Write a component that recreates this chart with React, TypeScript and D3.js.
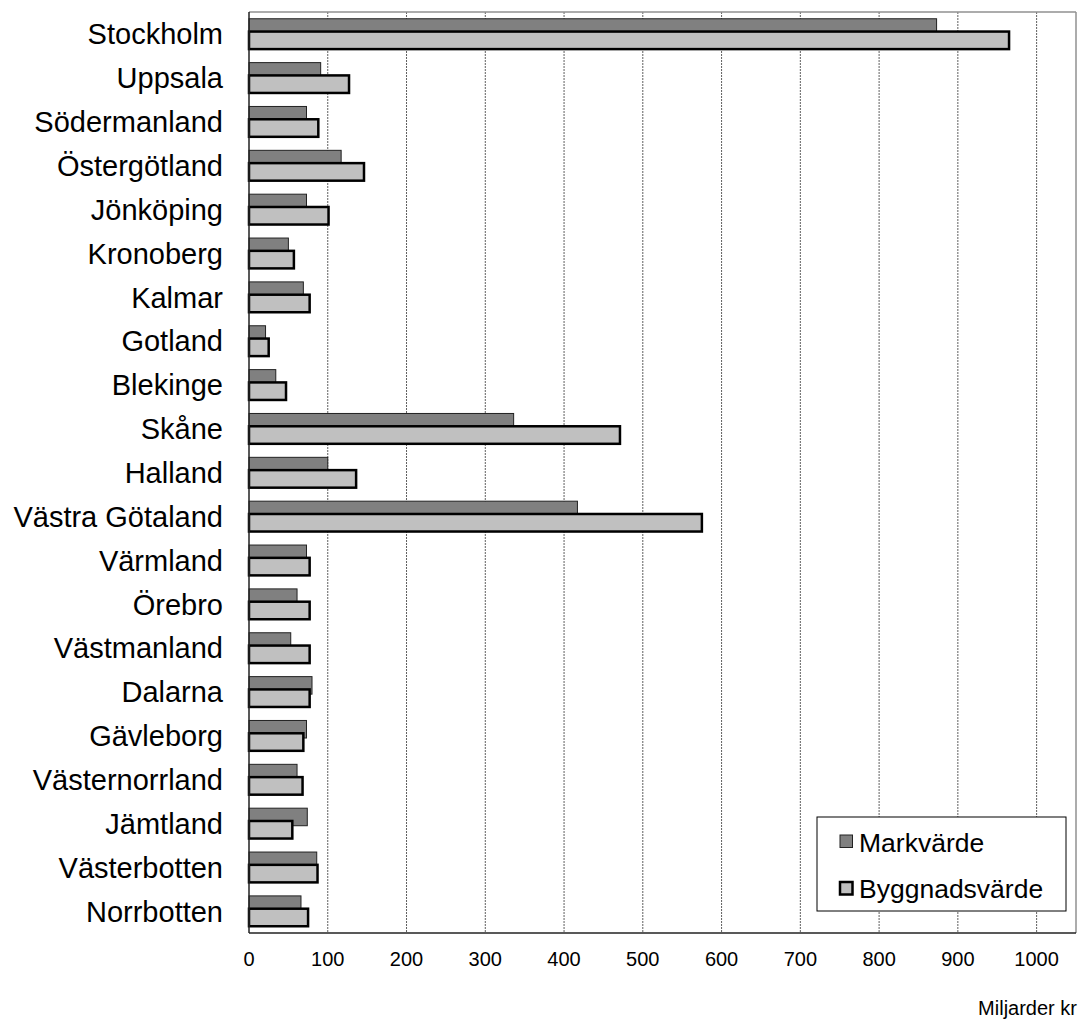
import React from "react";
import * as d3 from "d3";

const categories = [
  "Stockholm", "Uppsala", "Södermanland", "Östergötland", "Jönköping", "Kronoberg",
  "Kalmar", "Gotland", "Blekinge", "Skåne", "Halland", "Västra Götaland", "Värmland",
  "Örebro", "Västmanland", "Dalarna", "Gävleborg", "Västernorrland", "Jämtland",
  "Västerbotten", "Norrbotten",
];
const markvarde = [873, 91, 73, 117, 73, 50, 69, 21, 34, 336, 100, 417, 73, 61, 53, 80, 73, 61, 74, 86, 66];
const byggnadsvarde = [965, 127, 88, 146, 101, 57, 77, 25, 47, 471, 136, 575, 77, 77, 77, 77, 69, 68, 55, 87, 75];
const xTicks = [0, 100, 200, 300, 400, 500, 600, 700, 800, 900, 1000];
const seriesNames = ["Markvärde", "Byggnadsvärde"];
const unitLabel = "Miljarder kr";

const W = 1084;
const H = 1019;
const left = 249;
const right = 1076;
const top = 12;
const bottom = 933;
const FONT = "'Liberation Sans', Arial, Helvetica, sans-serif";

export default function App() {
  const x = d3.scaleLinear().domain([0, 1050]).range([left, right]);
  const y = d3.scaleBand<string>().domain(categories).range([top, bottom]).paddingInner(0).paddingOuter(0);
  const bw = y.bandwidth();
  const barH = bw * 0.4;
  const overlap = barH * 0.27;
  const groupH = 2 * barH - overlap;

  return (
    <svg width={W} height={H} style={{ display: "block", position: "absolute", left: 0, top: 0, background: "#fff" }}>
      {/* gridlines */}
      {xTicks.slice(1).map((t) => (
        <line key={"g" + t} x1={x(t)} x2={x(t)} y1={top} y2={bottom} stroke="#606060" strokeWidth={1} strokeDasharray="2,1" />
      ))}
      {/* frame top/right */}
      <line x1={left} x2={right} y1={top} y2={top} stroke="#909090" strokeWidth={1.5} />
      <line x1={right} x2={right} y1={top} y2={bottom} stroke="#909090" strokeWidth={1.5} />
      {/* bars */}
      {categories.map((c, i) => {
        const y0 = (y(c) as number) + bw / 2 - groupH / 2;
        return (
          <g key={c}>
            <rect x={x(0)} y={y0} width={x(markvarde[i]) - x(0)} height={barH} fill="#808080" stroke="#222" strokeWidth={1} />
            <rect x={x(0)} y={y0 + barH - overlap} width={x(byggnadsvarde[i]) - x(0)} height={barH} fill="#c0c0c0" stroke="#000" strokeWidth={2.5} />
          </g>
        );
      })}
      {/* axes */}
      <line x1={left} x2={left} y1={top} y2={bottom} stroke="#222" strokeWidth={1.5} />
      <line x1={left} x2={right} y1={bottom} y2={bottom} stroke="#222" strokeWidth={1.5} />
      {/* category labels */}
      {categories.map((c) => (
        <text key={"l" + c} x={223} y={(y(c) as number) + bw / 2} dy="0.36em" textAnchor="end" fontFamily={FONT} fontSize={29} fill="#000">
          {c}
        </text>
      ))}
      {/* x tick labels */}
      {xTicks.map((t) => (
        <text key={"t" + t} x={x(t)} y={959} dy="0.36em" textAnchor="middle" fontFamily={FONT} fontSize={20} fill="#000">
          {t}
        </text>
      ))}
      <text x={1077} y={1008} dy="0.36em" textAnchor="end" fontFamily={FONT} fontSize={20} fill="#000">
        {unitLabel}
      </text>
      {/* legend */}
      <rect x={817} y={817} width={249} height={94} fill="#fff" stroke="#000" strokeWidth={1} />
      <rect x={840} y={835} width={12.5} height={12.5} fill="#808080" stroke="#222" strokeWidth={1} />
      <text x={859} y={842} dy="0.36em" fontFamily={FONT} fontSize={26.5} fill="#000">{seriesNames[0]}</text>
      <rect x={840} y={882} width={12.5} height={12.5} fill="#c0c0c0" stroke="#000" strokeWidth={2.5} />
      <text x={859} y={888} dy="0.36em" fontFamily={FONT} fontSize={26.5} fill="#000">{seriesNames[1]}</text>
    </svg>
  );
}
